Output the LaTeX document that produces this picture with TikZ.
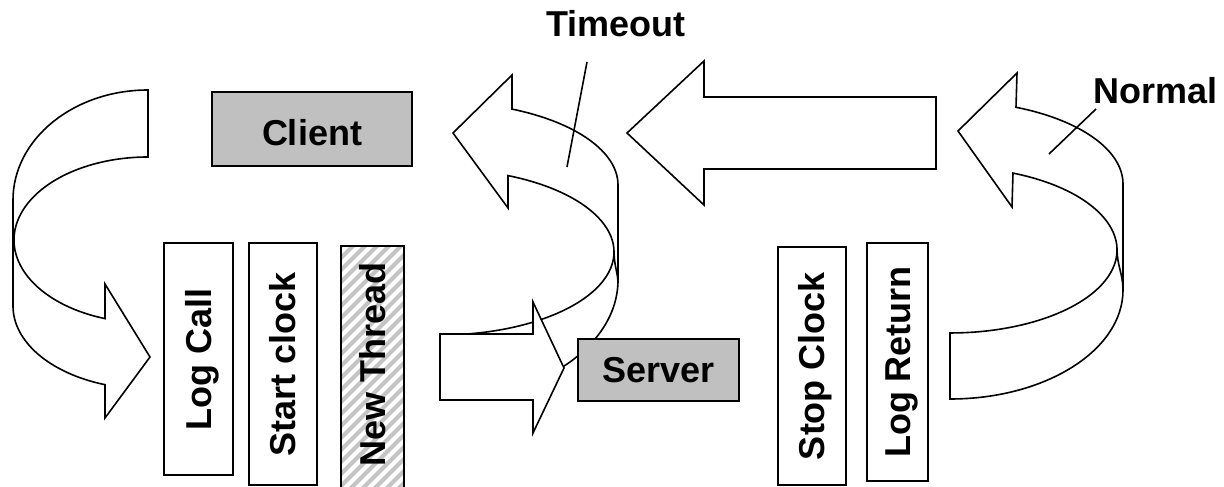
\documentclass[tikz,border=0pt]{standalone}
\usepackage{fontspec}
\setmainfont{Liberation Sans}
\definecolor{boxgray}{RGB}{192,192,192}
\definecolor{stripegray}{RGB}{196,196,196}
\begin{document}
\begin{tikzpicture}[x=1pt, y=-1pt,
  every node/.style={font=\fontsize{36}{43}\selectfont\bfseries, inner sep=0pt},
  shapeline/.style={draw=black, line width=1.6pt, line join=miter, fill=white},
  foldline/.style={draw=black, line width=1.6pt},
  boxline/.style={draw=black, line width=2pt},
  graybox/.style={boxline, fill=boxgray, text height=25.8pt, text depth=0pt},
  vbox/.style={boxline, fill=white, rotate=90, text height=25.8pt, text depth=0pt},
  vlabel/.style={rotate=90, text height=25.8pt, text depth=0pt},
  stripe/.style={draw=stripegray, line width=4pt},
  pointer/.style={draw=black, line width=1.6pt},
]
\useasboundingbox (0,0) rectangle (1224,487);

% curved arrow behind the server call (timeout path)
\draw[shapeline] (440,400)
   arc[start angle=90, end angle=0, x radius=178, y radius=120]
   -- (618,185)
   arc[start angle=0, end angle=-66.14, x radius=178, y radius=83]
   -- (512,75) -- (453,133) -- (508,208) -- (508,175.6)
   arc[start angle=-66.99, end angle=90, x radius=174, y radius=83]
   -- cycle;
\draw[foldline] (614,252) .. controls (614.3,266) and (617.5,272) .. (618,282);

% curved arrow from the client down to the call log
\draw[shapeline] (148,90)
   arc[start angle=270, end angle=180, x radius=135, y radius=110]
   -- (13,306)
   arc[start angle=180, end angle=108.57, x radius=135, y radius=83]
   -- (105,418) -- (150,357) -- (105,284) -- (105,318.6)
   arc[start angle=108.72, end angle=270, x radius=134, y radius=83]
   -- cycle;

% curved arrow for the normal return
\draw[shapeline] (950,399)
   arc[start angle=90, end angle=0, x radius=173, y radius=109]
   -- (1123,184)
   arc[start angle=0, end angle=-67.57, x radius=173, y radius=83]
   -- (1017,73) -- (958,131) -- (1012,207) -- (1013,173.1)
   arc[start angle=-67.84, end angle=90, x radius=167, y radius=83]
   -- cycle;
\draw[foldline] (1117,250) .. controls (1117.3,265) and (1122.5,274) .. (1123,288);

% straight return arrow towards the client
\draw[shapeline] (936,97) -- (704,97) -- (704,61) -- (627,133)
   -- (704,205) -- (704,169) -- (936,169) -- cycle;

% straight arrow into the server
\draw[shapeline] (440,334) -- (533,334) -- (533,302) -- (564,368)
   -- (533,433) -- (533,400) -- (440,400) -- cycle;

% client and server
\node[graybox, text height=33.8pt, minimum width=200, minimum height=74] (client) at (312,129) {Client};
\node[graybox, minimum width=161, minimum height=62] (server) at (658.5,370) {Server};

% steps before the call
\node[vbox, minimum width=232, minimum height=69] (logcall) at (198.5,359) {Log Call};
\node[vbox, minimum width=242, minimum height=68] (startclock) at (283,364) {Start clock};

% hatched thread box
\begin{scope}
  \clip (341,246) rectangle (404,495);
  \fill[white] (341,246) rectangle (404,495);
  \foreach \c in {575,587,...,911} {
    \draw[stripe] (\c-200,200) -- (\c-520,520);
  }
\end{scope}
\draw[boxline] (341,246) rectangle (404,495);
\node[vlabel] (newthread) at (372.5,364) {New Thread};

% steps after the call
\node[vbox, minimum width=238, minimum height=68] (stopclock) at (812,366) {Stop Clock};
\node[vbox, minimum width=238, minimum height=61] (logreturn) at (897.5,362) {Log Return};

% labels with pointer lines
\node[anchor=base] (timeout) at (616,37) {Timeout};
\node[anchor=base] (normal) at (1155.5,103) {Normal};
\coordinate (tA) at (587,62);
\coordinate (tB) at (567,167);
\coordinate (nA) at (1096,109);
\coordinate (nB) at (1049,154);
\draw[pointer] (tA) -- (tB);
\draw[pointer] (nA) -- (nB);
\end{tikzpicture}
\end{document}
